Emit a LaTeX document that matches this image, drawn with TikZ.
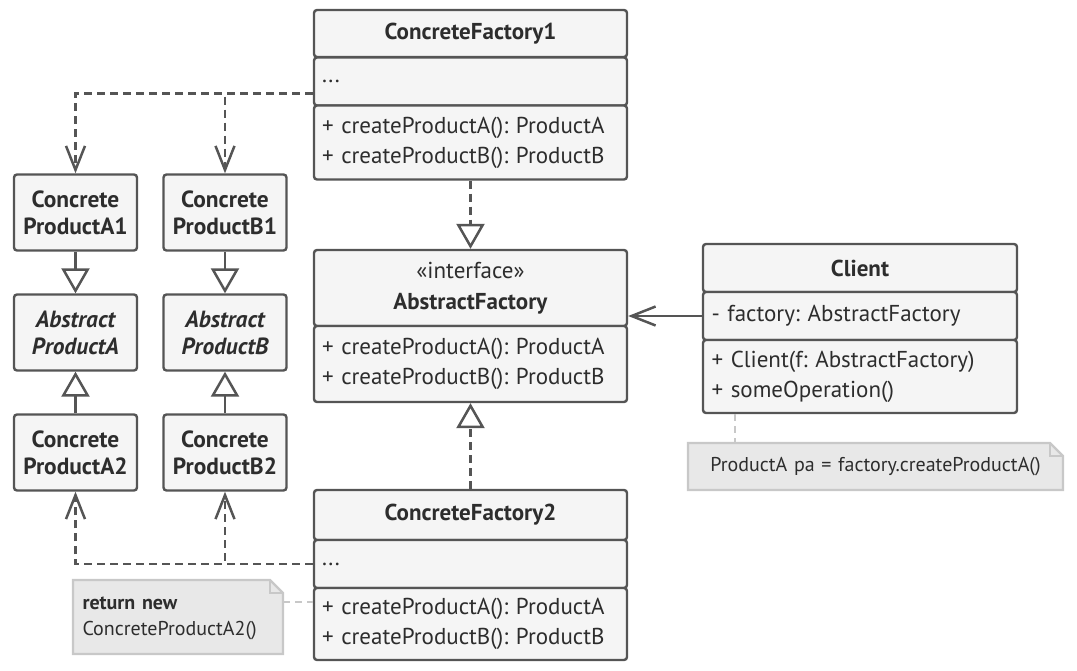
\documentclass[tikz,border=0pt]{standalone}
\usepackage{fontspec}
\setmainfont{PT Sans}
\usetikzlibrary{positioning,arrows.meta}
\definecolor{linec}{RGB}{85,85,85}
\definecolor{textc}{RGB}{45,45,45}
\definecolor{boxc}{RGB}{245,245,245}
\definecolor{notec}{RGB}{232,232,232}
\definecolor{noteline}{RGB}{200,200,200}
\frenchspacing
\tikzset{
  part/.style={draw=linec, fill=boxc, line width=2.4pt, rounded corners=3pt, minimum width=313pt, inner sep=0pt, text=textc, font=\fontsize{23}{30}\selectfont},
  head/.style={part, align=center, font=\bfseries\fontsize{23}{31}\selectfont},
  body/.style={part, text width=297pt, align=left},
  prod/.style={part, minimum width=123pt, minimum height=76pt, align=center, font=\bfseries\fontsize{23.4}{27}\selectfont},
  note/.style={inner sep=0pt, text=textc, text width=#1, align=left, font=\fontsize{20}{26}\selectfont},
  dep/.style={draw=linec, line width=2.5pt, dash pattern=on 8pt off 5pt, -{Straight Barb[length=24pt, width=19pt, line width=2.5pt]}},
  real/.style={draw=linec, line width=2.5pt, dash pattern=on 8pt off 5pt, -{Triangle[length=25pt, width=28pt, line width=2.5pt, fill=white]}},
  gen/.style={draw=linec, line width=2.5pt, -{Triangle[length=25pt, width=28pt, line width=2.5pt, fill=white]}},
  assoc/.style={draw=linec, line width=2.5pt, -{Straight Barb[length=24pt, width=19pt, line width=2.5pt]}},
  link/.style={draw=noteline, line width=2.2pt, dash pattern=on 7pt off 5pt}
}
\begin{document}
\begin{tikzpicture}[x=1pt, y=-1pt]
  \useasboundingbox (0,0) rectangle (1077,671);
  \node [head, minimum height=47pt] (cf1t) at (470.5, 33.5) {ConcreteFactory1};
  \node [body, minimum height=48pt] (cf1f) at (470.5, 81.5) {...};
  \node [body, minimum height=74pt] (cf1m) at (470.5, 142.5) {+ createProductA(): ProductA\\+ createProductB(): ProductB};
  \node [head, minimum height=76pt, font=\fontsize{23}{31}\selectfont] (aft) at (470.5, 288) {«interface»\\\textbf{AbstractFactory}};
  \node [body, minimum height=76pt] (afm) at (470.5, 364) {+ createProductA(): ProductA\\+ createProductB(): ProductB};
  \node [head, minimum height=50pt] (cf2t) at (470.5, 515) {ConcreteFactory2};
  \node [body, minimum height=48pt] (cf2f) at (470.5, 564) {...};
  \node [body, minimum height=72pt] (cf2m) at (470.5, 624) {+ createProductA(): ProductA\\+ createProductB(): ProductB};
  \node [head, minimum height=48pt, minimum width=314pt] (clt) at (860, 268) {Client};
  \node [body, minimum height=48pt, minimum width=314pt] (clf) at (860, 316) {- factory: AbstractFactory};
  \node [body, minimum height=73pt, minimum width=314pt] (clm) at (860, 376.5) {+ Client(f: AbstractFactory)\\+ someOperation()};
  \node [prod] (pa1) at (75.5, 212.5) {Concrete\\ProductA1};
  \node [prod] (pb1) at (225, 212.5) {Concrete\\ProductB1};
  \node [prod, font=\bfseries\itshape\fontsize{23.4}{27}\selectfont] (pa) at (75.5, 332.5) {Abstract\\ProductA};
  \node [prod, font=\bfseries\itshape\fontsize{23.4}{27}\selectfont] (pb) at (225, 332.5) {Abstract\\ProductB};
  \node [prod] (pa2) at (75.5, 452.5) {Concrete\\ProductA2};
  \node [prod] (pb2) at (225, 452.5) {Concrete\\ProductB2};
  \draw [link] ([xshift=33pt]clm.south west) -- ++(0,-30pt);
  \draw [link] (283, 602) -- (cf2m.west |- 0, 602);
  \filldraw [draw=noteline, fill=notec, line width=2.2pt] (688, 490) -- (688, 443) -- (1050, 443) -- (1063, 456) -- (1063, 490) -- cycle;
  \draw [draw=noteline, line width=2.2pt] (1050, 443) -- (1050, 456) -- (1063, 456);
  \filldraw [draw=noteline, fill=notec, line width=2.2pt] (73, 654) -- (73, 580) -- (270, 580) -- (283, 593) -- (283, 654) -- cycle;
  \draw [draw=noteline, line width=2.2pt] (270, 580) -- (270, 593) -- (283, 593);
  \node [note=350pt, align=center] (cln) at (875.5, 467) {ProductA pa = factory.createProductA()};
  \node [note=195pt] (rn) at (180, 618) {\textbf{return new}\\ConcreteProductA2()};
  \draw [dep] ([yshift=-12pt]cf1f.west) -| (pa1.north);
  \draw [dep] ([yshift=-12pt]cf1f.west) -| (pb1.north);
  \draw [dep] (cf2f.west) -| (pa2.south);
  \draw [dep] (cf2f.west) -| (pb2.south);
  \draw [real] (cf1m.south) -- (aft.north);
  \draw [real] (cf2t.north) -- (afm.south);
  \draw [gen] (pa1) -- (pa);
  \draw [gen] (pb1) -- (pb);
  \draw [gen] (pa2) -- (pa);
  \draw [gen] (pb2) -- (pb);
  \draw [assoc] (clf.west) -- (clf.west -| aft.east);
\end{tikzpicture}
\end{document}
